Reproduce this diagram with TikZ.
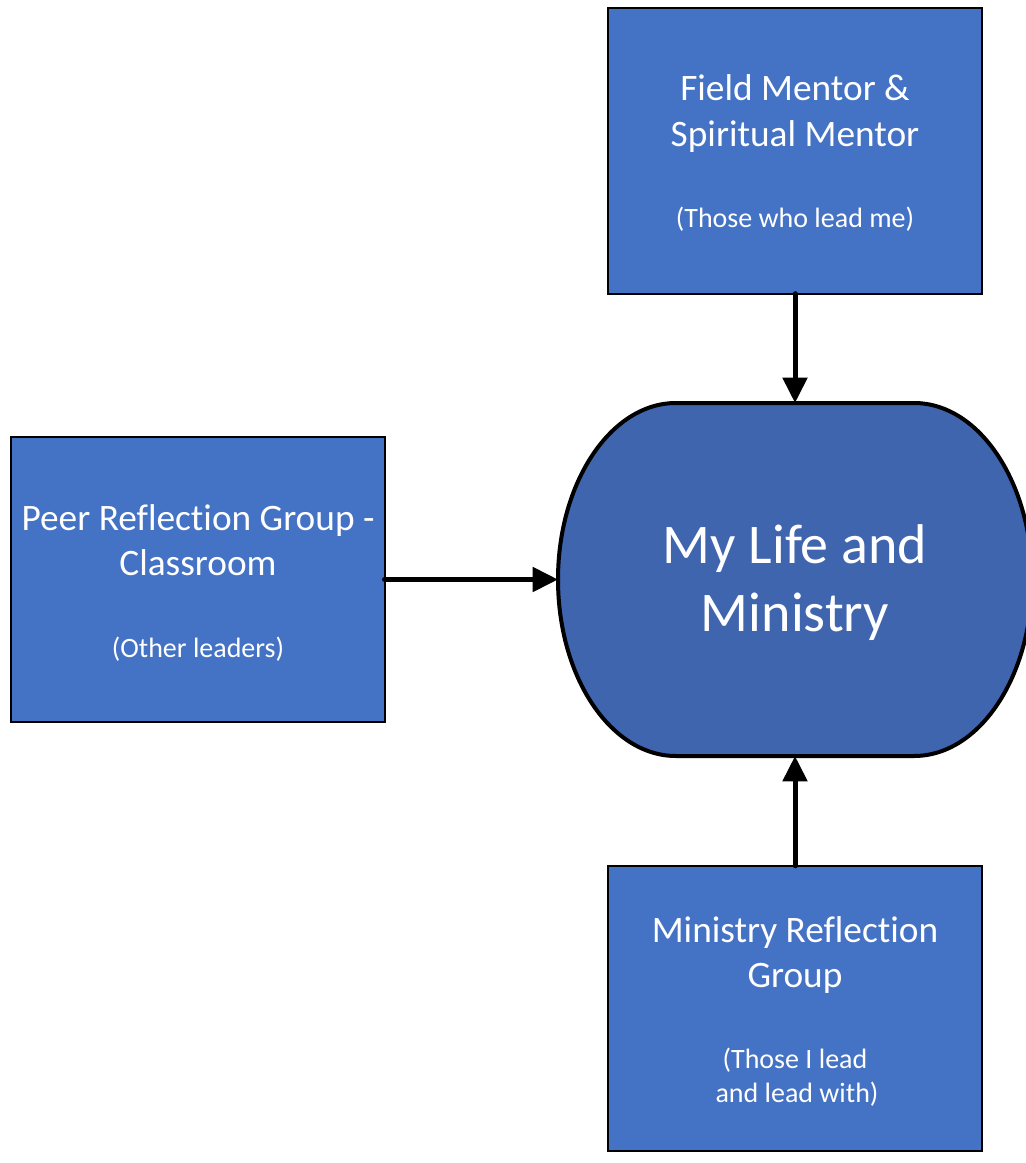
\documentclass[tikz,border=0pt]{standalone}
\usepackage{fontspec}
\setmainfont[Ligatures={NoCommon}]{Carlito}
\usetikzlibrary{arrows.meta}
\definecolor{boxblue}{HTML}{4472C4}
\definecolor{coreblue}{HTML}{3F65AE}
\begin{document}
\begin{tikzpicture}[x=0.75pt,y=-0.75pt,
  box/.style={draw=black,line width=1.5pt,fill=boxblue,rectangle,inner sep=0pt,outer sep=0pt,
    minimum width=280.5pt,minimum height=214pt},
  title/.style={anchor=base,text=white,font=\fontsize{28}{33}\selectfont,inner sep=0pt},
  sub/.style={anchor=base,text=white,font=\fontsize{21}{25}\selectfont,inner sep=0pt},
  bigtext/.style={anchor=base,text=white,font=\fontsize{42}{50}\selectfont,inner sep=0pt},
  link/.style={draw=black,line width=3.75pt,line cap=round,-{Triangle[length=19pt,width=18pt]}}]
\useasboundingbox (0,0) rectangle (1025,1163);
% boxes
\node[box] (mentor) at (795,151) {};
\node[box] (peer) at (197.5,579.5) {};
\node[box] (group) at (795,1008.5) {};
% central shape
\node[rectangle,inner sep=0pt,outer sep=0pt,minimum width=355.5pt,minimum height=264.75pt] (life) at (795,579.5) {};
\path[draw=black,line width=3pt,fill=coreblue]
  (676,403) -- (914,403)
  .. controls (979.2,403) and (1032,482.5) .. (1032,579.5)
  .. controls (1032,677) and (979.2,756) .. (914,756)
  -- (676,756)
  .. controls (610.8,756) and (558,677) .. (558,579.5)
  .. controls (558,482.5) and (610.8,403) .. (676,403) -- cycle;
% texts
\node[title] (m1) at (795,100) {Field Mentor \&};
\node[title] (m2) at (795,146) {Spiritual Mentor};
\node[sub] (m3) at (795,227) {(Those who lead me)};
\node[title] (p1) at (198,530) {Peer Reflection Group -};
\node[title] (p2) at (198,575) {Classroom};
\node[sub] (p3) at (198,657) {(Other leaders)};
\node[title] (g1) at (795,942) {Ministry Reflection};
\node[title] (g2) at (795,987) {Group};
\node[sub] (g3) at (795,1068) {(Those I lead};
\node[sub] (g4) at (797,1102) {and lead with)};
\node[bigtext] (l1) at (795,563) {My Life and};
\node[bigtext] (l2) at (795,631) {Ministry};
% connectors
\draw[link] (mentor.south) -- (life.north);
\draw[link] (peer.east) -- (life.west);
\draw[link] (group.north) -- (life.south);
\end{tikzpicture}
\end{document}
